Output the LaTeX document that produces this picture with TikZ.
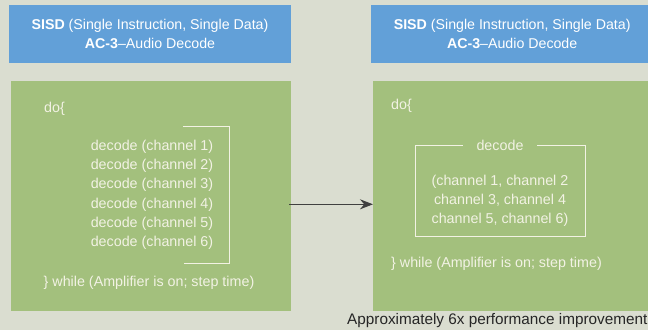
\documentclass[tikz,border=0pt]{standalone}
\usepackage{fontspec}
\setmainfont{Liberation Sans}
\usetikzlibrary{arrows.meta,positioning}
\definecolor{bgcol}{RGB}{218,221,208}
\definecolor{headblue}{RGB}{98,160,216}
\definecolor{bodygreen}{RGB}{163,192,125}
\definecolor{cream}{RGB}{242,242,228}
\tikzset{
  headbox/.style={fill=headblue, minimum height=58pt, text=white, align=center, inner sep=0pt, font=\fontsize{14.2}{19}\selectfont},
  bodybox/.style={fill=bodygreen, minimum height=230pt, inner sep=0pt},
  codetext/.style={text=cream, inner sep=0pt, font=\fontsize{14.3}{19.2}\selectfont},
  frameline/.style={draw=cream, line width=1pt}
}
\begin{document}
\begin{tikzpicture}[x=1pt,y=-1pt]
  \useasboundingbox[fill=bgcol] (0,0) rectangle (648,330);
  % headers and bodies
  \node[headbox, minimum width=282pt] (lefthead) at (150,34) {\textbf{SISD} (Single Instruction, Single Data)\\\textbf{AC-3}--Audio Decode};
  \node[headbox, minimum width=282pt, anchor=west] (righthead) at (371,34) {\textbf{SISD} (Single Instruction, Single Data)\\\textbf{AC-3}--Audio Decode};
  \node[bodybox, minimum width=280pt] (leftbody) at (151,196) {};
  \node[bodybox, minimum width=280pt, anchor=west] (rightbody) at (373,196) {};

  % left: one decode per channel
  \node[codetext, anchor=west] (ldo) at (44,109) {do\{};
  \foreach \c/\y in {1/146.7, 2/165.9, 3/185.1, 4/204.3, 5/223.5, 6/242.7}
    \node[codetext] (ch\c) at (152,\y) {decode (channel \c)};
  \draw[frameline] (183,126.7) -- (229,126.7) -- (229,263.7) -- (184,263.7);
  \node[codetext] (lwhile) at (149,283) {\} while (Amplifier is on; step time)};

  % right: one decode for all channels
  \node[codetext, anchor=west] (rdo) at (391,106) {do\{};
  \draw[frameline] (415,145) rectangle (585,236);
  \node[codetext, fill=bodygreen, inner xsep=14pt] (rdecode) at (500,145) {decode};
  \node[codetext, align=center] (rchans) at (500,201) {(channel 1, channel 2\\channel 3, channel 4\\channel 5, channel 6)};
  \node[codetext, anchor=west] (rwhile) at (391,264) {\} while (Amplifier is on; step time)};

  \draw[-{Stealth[length=13pt,width=10pt]}, line width=1.2pt, draw=black!75, fill=black!75]
    ([xshift=-2pt]leftbody.east |- ch4) -- (rightbody.west |- ch4);
  \node[anchor=west, text=black!85, inner sep=0pt, font=\fontsize{15.3}{17}\selectfont] (gain) at (347,321) {Approximately 6x performance improvement};
\end{tikzpicture}
\end{document}
